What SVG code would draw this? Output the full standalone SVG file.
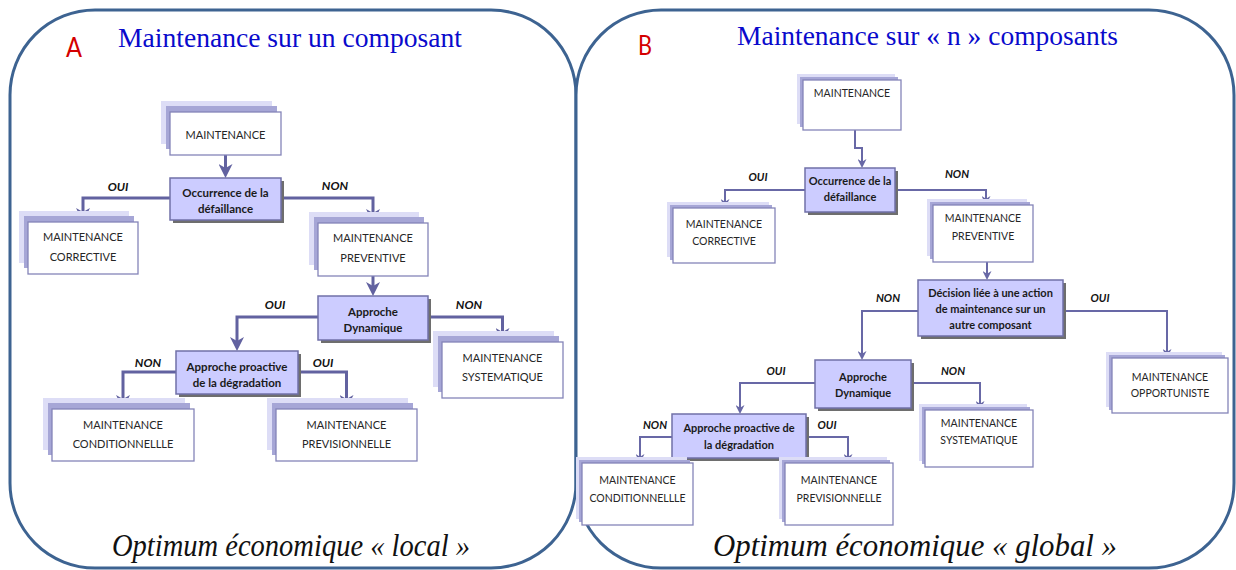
<svg xmlns="http://www.w3.org/2000/svg" width="1236" height="570" viewBox="0 0 1236 570">
<style>
.panel{fill:#fff;stroke:#3D6391;stroke-width:3}
.s1{fill:#DDDDF6}
.s2{fill:#A6A6D6}
.box{fill:#fff;stroke:#8484B8;stroke-width:1.3}
.dec{fill:#CCCCFF;stroke:#7070A8;stroke-width:1.5}
.dsh{fill:#6E6E6E}
.t{font-family:Lato,"Liberation Sans",sans-serif;font-size:11px;fill:#262626;text-anchor:middle}
.tr{font-family:Lato,"Liberation Sans",sans-serif;font-size:10.5px;fill:#262626;text-anchor:middle}
.b{font-family:Lato,"Liberation Sans",sans-serif;font-size:11.5px;font-weight:bold;fill:#1a1a1a;text-anchor:middle}
.br{font-family:Lato,"Liberation Sans",sans-serif;font-size:11px;font-weight:bold;fill:#1a1a1a;text-anchor:middle}
.lab{font-family:Lato,"Liberation Sans",sans-serif;font-size:12px;font-weight:bold;font-style:italic;fill:#111;text-anchor:middle}
.labr{font-family:Lato,"Liberation Sans",sans-serif;font-size:11px;font-weight:bold;font-style:italic;fill:#111;text-anchor:middle}
.cL{fill:none;stroke:#6262A0;stroke-width:3}
.cR{fill:none;stroke:#6868A6;stroke-width:2}
.title{font-family:"Liberation Serif",serif;font-size:28px;fill:#0A0ACC}
.letter{font-family:Lato,"Liberation Sans",sans-serif;font-size:27px;fill:#D40000}
.foot{font-family:"Liberation Serif",serif;font-size:31px;font-style:italic;fill:#111}
</style>
<defs>
<marker id="ahL" viewBox="0 0 14 14" refX="6" refY="7" markerWidth="14" markerHeight="14" markerUnits="userSpaceOnUse" orient="auto"><path d="M0,0 L14,7 L0,14 L4,7 z" fill="#6262A0"/></marker>
<marker id="ahR" viewBox="0 0 10 10" refX="4" refY="5" markerWidth="9" markerHeight="9" markerUnits="userSpaceOnUse" orient="auto"><path d="M0,0 L10,5 L0,10 L3,5 z" fill="#6868A6"/></marker>
</defs>

<g id="panelA">
<rect class="panel" x="10" y="10" width="566" height="558" rx="85" ry="85"/>
<text class="letter" x="66" y="57" textLength="16" lengthAdjust="spacingAndGlyphs">A</text>
<text class="title" x="118" y="47" textLength="344" lengthAdjust="spacingAndGlyphs">Maintenance sur un composant</text>
<text class="foot" x="112" y="556" textLength="358" lengthAdjust="spacingAndGlyphs">Optimum économique « local »</text>
</g>
<g id="panelB">
<rect class="panel" x="576" y="10" width="658" height="558" rx="85" ry="85"/>
<text class="letter" x="638" y="55" textLength="14" lengthAdjust="spacingAndGlyphs">B</text>
<text class="title" x="737" y="45" textLength="381" lengthAdjust="spacingAndGlyphs">Maintenance sur « n » composants</text>
<text class="foot" x="713" y="556" textLength="404" lengthAdjust="spacingAndGlyphs">Optimum économique « global »</text>
</g>

<g id="connectors">
<path class="cL" d="M225.5,155 V170" marker-end="url(#ahL)"/>
<path class="cL" d="M170,198 H83 V214" marker-end="url(#ahL)"/>
<path class="cL" d="M281,198 H373 V215" marker-end="url(#ahL)"/>
<path class="cL" d="M373,276 V288" marker-end="url(#ahL)"/>
<path class="cL" d="M318,317 H237 V343" marker-end="url(#ahL)"/>
<path class="cL" d="M428,317 H502.5 V334" marker-end="url(#ahL)"/>
<path class="cL" d="M176,372 H123 V401" marker-end="url(#ahL)"/>
<path class="cL" d="M298,372 H346.5 V401" marker-end="url(#ahL)"/>
<path class="cR" d="M855,130 V148 H862 V162.6" marker-end="url(#ahR)"/>
<path class="cR" d="M805,190 H725 V202.6" marker-end="url(#ahR)"/>
<path class="cR" d="M895,190 H986 V199.6" marker-end="url(#ahR)"/>
<path class="cR" d="M987,262 V274.6" marker-end="url(#ahR)"/>
<path class="cR" d="M918,311 H862 V354.6" marker-end="url(#ahR)"/>
<path class="cR" d="M1063,311 H1167 V352.6" marker-end="url(#ahR)"/>
<path class="cR" d="M815,383 H740 V408.6" marker-end="url(#ahR)"/>
<path class="cR" d="M911,383 H980 V404.6" marker-end="url(#ahR)"/>
<path class="cR" d="M672,437 H640 V457.6" marker-end="url(#ahR)"/>
<path class="cR" d="M806,437 H848 V457.6" marker-end="url(#ahR)"/>
<text class="lab" x="118" y="191">OUI</text>
<text class="lab" x="335" y="190">NON</text>
<text class="lab" x="275" y="309">OUI</text>
<text class="lab" x="469" y="309">NON</text>
<text class="lab" x="148" y="367">NON</text>
<text class="lab" x="323" y="367">OUI</text>
<text class="labr" x="758" y="181">OUI</text>
<text class="labr" x="957" y="178">NON</text>
<text class="labr" x="888" y="302">NON</text>
<text class="labr" x="1100" y="302">OUI</text>
<text class="labr" x="776" y="375">OUI</text>
<text class="labr" x="953" y="375">NON</text>
<text class="labr" x="655" y="429">NON</text>
<text class="labr" x="827" y="429">OUI</text>
</g>

<!-- Panel A nodes -->
<g id="A_maintenance">
<rect class="s1" x="161" y="101" width="111" height="43"/>
<rect class="s2" x="166" y="106" width="111" height="43"/>
<rect class="box" x="170" y="112" width="111" height="43"/>
<text class="t" x="225.5" y="139">MAINTENANCE</text>
</g>
<g id="A_occurrence">
<rect class="dsh" x="173" y="181" width="111" height="42"/>
<rect class="dec" x="170" y="178" width="111" height="42"/>
<text class="b" x="225.5" y="197">Occurrence de la</text>
<text class="b" x="225.5" y="213">défaillance</text>
</g>
<g id="A_corrective">
<rect class="s1" x="19" y="211" width="110" height="52"/>
<rect class="s2" x="24" y="216" width="110" height="52"/>
<rect class="box" x="28" y="222" width="110" height="52"/>
<text class="t" x="83" y="241">MAINTENANCE</text>
<text class="t" x="83" y="261">CORRECTIVE</text>
</g>
<g id="A_preventive">
<rect class="s1" x="309" y="212" width="110" height="53"/>
<rect class="s2" x="314" y="217" width="110" height="53"/>
<rect class="box" x="318" y="223" width="110" height="53"/>
<text class="t" x="373" y="242">MAINTENANCE</text>
<text class="t" x="373" y="262">PREVENTIVE</text>
</g>
<g id="A_dynamique">
<rect class="dsh" x="321" y="299" width="110" height="44"/>
<rect class="dec" x="318" y="296" width="110" height="44"/>
<text class="b" x="373" y="316">Approche</text>
<text class="b" x="373" y="332">Dynamique</text>
</g>
<g id="A_systematique">
<rect class="s1" x="433" y="331" width="121" height="56"/>
<rect class="s2" x="438" y="336" width="121" height="56"/>
<rect class="box" x="442" y="342" width="121" height="56"/>
<text class="t" x="502.5" y="362">MAINTENANCE</text>
<text class="t" x="502.5" y="381">SYSTEMATIQUE</text>
</g>
<g id="A_proactive">
<rect class="dsh" x="179" y="354" width="122" height="43"/>
<rect class="dec" x="176" y="351" width="122" height="43"/>
<text class="b" x="237" y="371">Approche proactive</text>
<text class="b" x="237" y="387">de la dégradation</text>
</g>
<g id="A_conditionnelle">
<rect class="s1" x="43" y="398" width="142" height="52"/>
<rect class="s2" x="48" y="403" width="142" height="52"/>
<rect class="box" x="52" y="409" width="142" height="52"/>
<text class="t" x="123" y="429">MAINTENANCE</text>
<text class="t" x="123" y="448">CONDITIONNELLLE</text>
</g>
<g id="A_previsionnelle">
<rect class="s1" x="267" y="398" width="141" height="52"/>
<rect class="s2" x="272" y="403" width="141" height="52"/>
<rect class="box" x="276" y="409" width="141" height="52"/>
<text class="t" x="346.5" y="429">MAINTENANCE</text>
<text class="t" x="346.5" y="448">PREVISIONNELLE</text>
</g>

<!-- Panel B nodes -->
<g id="B_maintenance">
<rect class="s1" x="797" y="74" width="98" height="50"/>
<rect class="s2" x="800" y="77" width="98" height="50"/>
<rect class="box" x="803" y="80" width="98" height="50"/>
<text class="tr" x="852" y="97">MAINTENANCE</text>
</g>
<g id="B_occurrence">
<rect class="dsh" x="808" y="171" width="90" height="44"/>
<rect class="dec" x="805" y="168" width="90" height="44"/>
<text class="br" x="850" y="185">Occurrence de la</text>
<text class="br" x="850" y="201">défaillance</text>
</g>
<g id="B_corrective">
<rect class="s1" x="667" y="202" width="102" height="55"/>
<rect class="s2" x="670" y="205" width="102" height="55"/>
<rect class="box" x="673" y="208" width="102" height="55"/>
<text class="tr" x="724" y="228">MAINTENANCE</text>
<text class="tr" x="724" y="245">CORRECTIVE</text>
</g>
<g id="B_preventive">
<rect class="s1" x="927" y="199" width="100" height="57"/>
<rect class="s2" x="930" y="202" width="100" height="57"/>
<rect class="box" x="933" y="205" width="100" height="57"/>
<text class="tr" x="983" y="222">MAINTENANCE</text>
<text class="tr" x="983" y="240">PREVENTIVE</text>
</g>
<g id="B_decision">
<rect class="dsh" x="921" y="283" width="145" height="56"/>
<rect class="dec" x="918" y="280" width="145" height="56"/>
<text class="br" x="990.5" y="297">Décision liée à une action</text>
<text class="br" x="990.5" y="313">de maintenance sur un</text>
<text class="br" x="990.5" y="329">autre composant</text>
</g>
<g id="B_opportuniste">
<rect class="s1" x="1106" y="352" width="116" height="55"/>
<rect class="s2" x="1109" y="355" width="116" height="55"/>
<rect class="box" x="1112" y="358" width="116" height="55"/>
<text class="tr" x="1170" y="381">MAINTENANCE</text>
<text class="tr" x="1170" y="397">OPPORTUNISTE</text>
</g>
<g id="B_dynamique">
<rect class="dsh" x="818" y="363" width="96" height="48"/>
<rect class="dec" x="815" y="360" width="96" height="48"/>
<text class="br" x="863" y="381">Approche</text>
<text class="br" x="863" y="397">Dynamique</text>
</g>
<g id="B_systematique">
<rect class="s1" x="919" y="404" width="108" height="57"/>
<rect class="s2" x="922" y="407" width="108" height="57"/>
<rect class="box" x="925" y="410" width="108" height="57"/>
<text class="tr" x="979" y="427">MAINTENANCE</text>
<text class="tr" x="979" y="444">SYSTEMATIQUE</text>
</g>
<g id="B_proactive">
<rect class="dsh" x="675" y="417" width="134" height="44"/>
<rect class="dec" x="672" y="414" width="134" height="44"/>
<text class="br" x="739" y="432">Approche proactive de</text>
<text class="br" x="739" y="449">la dégradation</text>
</g>
<g id="B_conditionnelle">
<rect class="s1" x="576" y="457" width="111" height="62"/>
<rect class="s2" x="579" y="460" width="111" height="62"/>
<rect class="box" x="582" y="463" width="111" height="62"/>
<text class="tr" x="637.5" y="484">MAINTENANCE</text>
<text class="tr" x="637.5" y="502">CONDITIONNELLLE</text>
</g>
<g id="B_previsionnelle">
<rect class="s1" x="779" y="457" width="108" height="62"/>
<rect class="s2" x="782" y="460" width="108" height="62"/>
<rect class="box" x="785" y="463" width="108" height="62"/>
<text class="tr" x="839" y="484">MAINTENANCE</text>
<text class="tr" x="839" y="502">PREVISIONNELLE</text>
</g>
</svg>
